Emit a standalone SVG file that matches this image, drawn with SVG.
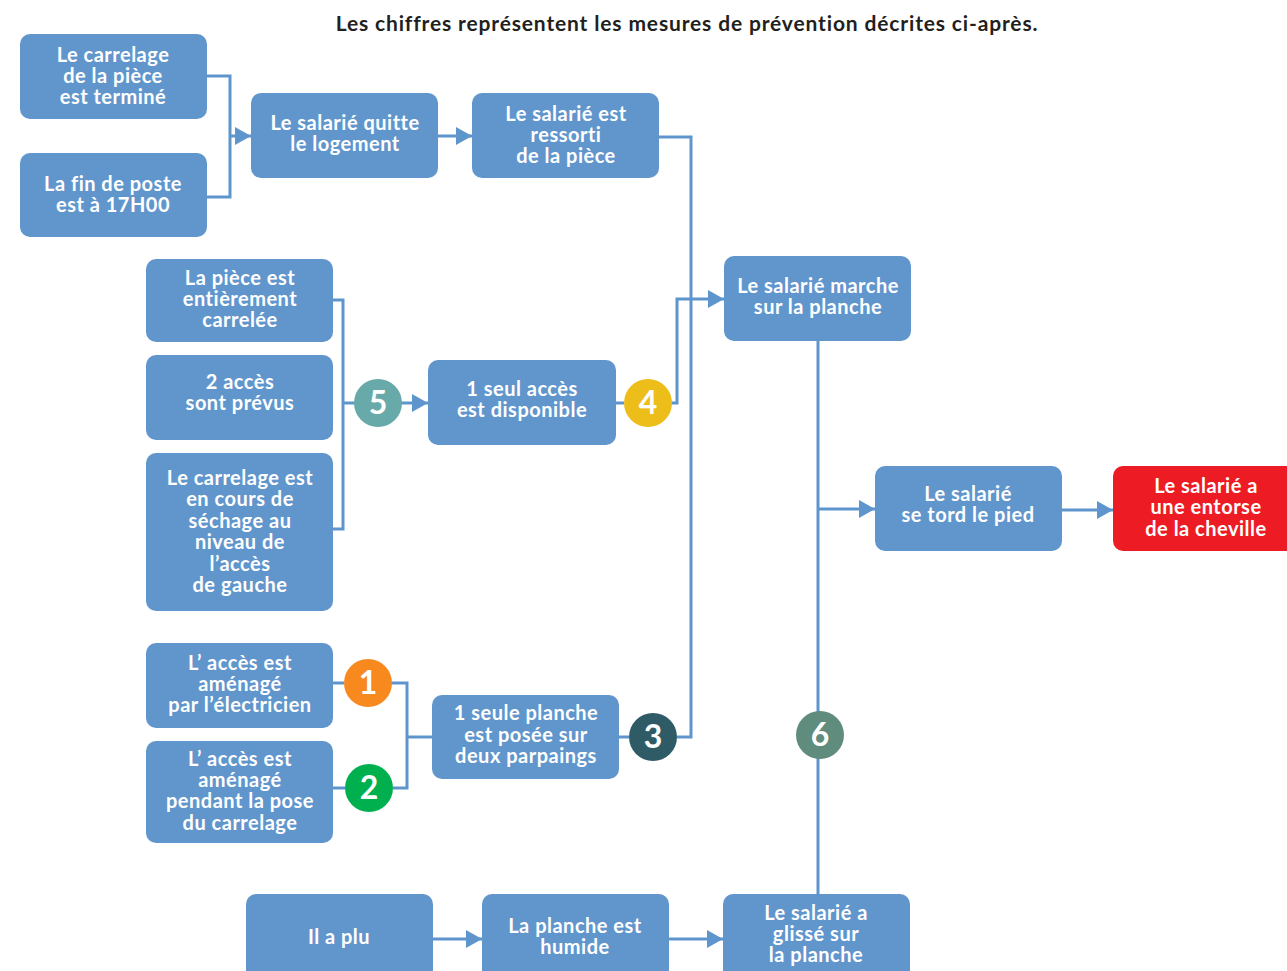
<svg xmlns="http://www.w3.org/2000/svg" width="1287" height="971" viewBox="0 0 1287 971">
<defs>
<marker id="arr" markerUnits="userSpaceOnUse" markerWidth="16" markerHeight="18" refX="16" refY="9" orient="auto">
<path d="M0,0 L16,9 L0,18 Z" fill="#5f95cd"/>
</marker>
<style>
.box{fill:#6196cd}
.red{fill:#ed1c24}
.t{font-family:Lato,"Liberation Sans",sans-serif;font-weight:700;font-size:20px;letter-spacing:0.5px;fill:#ffffff;text-anchor:middle}
.num{font-family:Lato,"Liberation Sans",sans-serif;font-weight:700;font-size:32px;fill:#ffffff;text-anchor:middle}
.ln{fill:none;stroke:#5f95cd;stroke-width:3}
.title{font-family:Lato,"Liberation Sans",sans-serif;font-weight:700;font-size:21px;letter-spacing:0.85px;fill:#231f20;text-anchor:middle}
</style>
</defs>
<rect width="1287" height="971" fill="#ffffff"/>
<text class="title" x="687" y="31">Les chiffres représentent les mesures de prévention décrites ci-après.</text>

<g id="connectors">
<path class="ln" d="M207,76 H230 V197 H207"/>
<path class="ln" d="M230,136 H251" marker-end="url(#arr)"/>
<path class="ln" d="M438,136 H472" marker-end="url(#arr)"/>
<path class="ln" d="M659,137 H691 V737 H677"/>
<path class="ln" d="M671,403 H677 V299 H724" marker-end="url(#arr)"/>
<path class="ln" d="M333,300 H343 V529 H333"/>
<path class="ln" d="M343,403 H355"/>
<path class="ln" d="M401,403 H428" marker-end="url(#arr)"/>
<path class="ln" d="M616,403 H624"/>
<path class="ln" d="M333,683 H344"/>
<path class="ln" d="M333,788 H345"/>
<path class="ln" d="M391,683 H407 V788 H393"/>
<path class="ln" d="M407,737 H432"/>
<path class="ln" d="M619,737 H629"/>
<path class="ln" d="M818,340 V895"/>
<path class="ln" d="M818,509 H875" marker-end="url(#arr)"/>
<path class="ln" d="M1062,510 H1113" marker-end="url(#arr)"/>
<path class="ln" d="M433,939 H482" marker-end="url(#arr)"/>
<path class="ln" d="M669,939 H723" marker-end="url(#arr)"/>
</g>

<g id="n-carrelage-termine">
<rect class="box" x="20" y="34" width="187" height="85" rx="10"/>
<text class="t"><tspan x="113" y="62">Le carrelage</tspan><tspan x="113" y="83">de la pièce</tspan><tspan x="113" y="104">est terminé</tspan></text>
</g>
<g id="n-fin-poste">
<rect class="box" x="20" y="153" width="187" height="84" rx="10"/>
<text class="t"><tspan x="113" y="191">La fin de poste</tspan><tspan x="113" y="212">est à 17H00</tspan></text>
</g>
<g id="n-quitte">
<rect class="box" x="251" y="93" width="187" height="85" rx="10"/>
<text class="t"><tspan x="345" y="130">Le salarié quitte</tspan><tspan x="345" y="151">le logement</tspan></text>
</g>
<g id="n-ressorti">
<rect class="box" x="472" y="93" width="187" height="85" rx="10"/>
<text class="t"><tspan x="566" y="121">Le salarié est</tspan><tspan x="566" y="142">ressorti</tspan><tspan x="566" y="163">de la pièce</tspan></text>
</g>
<g id="n-marche">
<rect class="box" x="724" y="256" width="187" height="85" rx="10"/>
<text class="t"><tspan x="818" y="293">Le salarié marche</tspan><tspan x="818" y="314">sur la planche</tspan></text>
</g>
<g id="n-piece-carrelee">
<rect class="box" x="146" y="259" width="187" height="83" rx="10"/>
<text class="t"><tspan x="240" y="285">La pièce est</tspan><tspan x="240" y="306">entièrement</tspan><tspan x="240" y="327">carrelée</tspan></text>
</g>
<g id="n-2acces">
<rect class="box" x="146" y="355" width="187" height="85" rx="10"/>
<text class="t"><tspan x="240" y="389">2 accès</tspan><tspan x="240" y="410">sont prévus</tspan></text>
</g>
<g id="n-sechage">
<rect class="box" x="146" y="453" width="187" height="158" rx="10"/>
<text class="t"><tspan x="240" y="485">Le carrelage est</tspan><tspan x="240" y="506">en cours de</tspan><tspan x="240" y="528">séchage au</tspan><tspan x="240" y="549">niveau de</tspan><tspan x="240" y="571">l’accès</tspan><tspan x="240" y="592">de gauche</tspan></text>
</g>
<g id="n-1acces">
<rect class="box" x="428" y="360" width="188" height="85" rx="10"/>
<text class="t"><tspan x="522" y="396">1 seul accès</tspan><tspan x="522" y="417">est disponible</tspan></text>
</g>
<g id="n-electricien">
<rect class="box" x="146" y="643" width="187" height="85" rx="10"/>
<text class="t"><tspan x="240" y="670">L’ accès est</tspan><tspan x="240" y="691">aménagé</tspan><tspan x="240" y="712">par l’électricien</tspan></text>
</g>
<g id="n-pose">
<rect class="box" x="146" y="741" width="187" height="102" rx="10"/>
<text class="t"><tspan x="240" y="766">L’ accès est</tspan><tspan x="240" y="787">aménagé</tspan><tspan x="240" y="808">pendant la pose</tspan><tspan x="240" y="830">du carrelage</tspan></text>
</g>
<g id="n-planche">
<rect class="box" x="432" y="695" width="187" height="84" rx="10"/>
<text class="t"><tspan x="526" y="720">1 seule planche</tspan><tspan x="526" y="742">est posée sur</tspan><tspan x="526" y="763">deux parpaings</tspan></text>
</g>
<g id="n-tord">
<rect class="box" x="875" y="466" width="187" height="85" rx="10"/>
<text class="t"><tspan x="968" y="501">Le salarié</tspan><tspan x="968" y="522">se tord le pied</tspan></text>
</g>
<g id="n-entorse">
<rect class="red" x="1113" y="466" width="200" height="85" rx="10"/>
<text class="t"><tspan x="1206" y="493">Le salarié a</tspan><tspan x="1206" y="514">une entorse</tspan><tspan x="1206" y="536">de la cheville</tspan></text>
</g>
<g id="n-plu">
<rect class="box" x="246" y="894" width="187" height="90" rx="10"/>
<text class="t"><tspan x="339" y="944">Il a plu</tspan></text>
</g>
<g id="n-humide">
<rect class="box" x="482" y="894" width="187" height="90" rx="10"/>
<text class="t"><tspan x="575" y="933">La planche est</tspan><tspan x="575" y="954">humide</tspan></text>
</g>
<g id="n-glisse">
<rect class="box" x="723" y="894" width="187" height="90" rx="10"/>
<text class="t"><tspan x="816" y="920">Le salarié a</tspan><tspan x="816" y="941">glissé sur</tspan><tspan x="816" y="962">la planche</tspan></text>
</g>

<g id="c1"><circle cx="368" cy="683" r="24" fill="#f7891f"/><text class="num" x="368" y="694">1</text></g>
<g id="c2"><circle cx="369" cy="788" r="24" fill="#00b04f"/><text class="num" x="369" y="799">2</text></g>
<g id="c3"><circle cx="653" cy="737" r="24" fill="#2f5b67"/><text class="num" x="653" y="748">3</text></g>
<g id="c4"><circle cx="648" cy="403" r="24" fill="#edbe1a"/><text class="num" x="648" y="414">4</text></g>
<g id="c5"><circle cx="378" cy="403" r="24" fill="#68aaa9"/><text class="num" x="378" y="414">5</text></g>
<g id="c6"><circle cx="820" cy="735" r="24" fill="#5f8c7c"/><text class="num" x="820" y="746">6</text></g>
</svg>
